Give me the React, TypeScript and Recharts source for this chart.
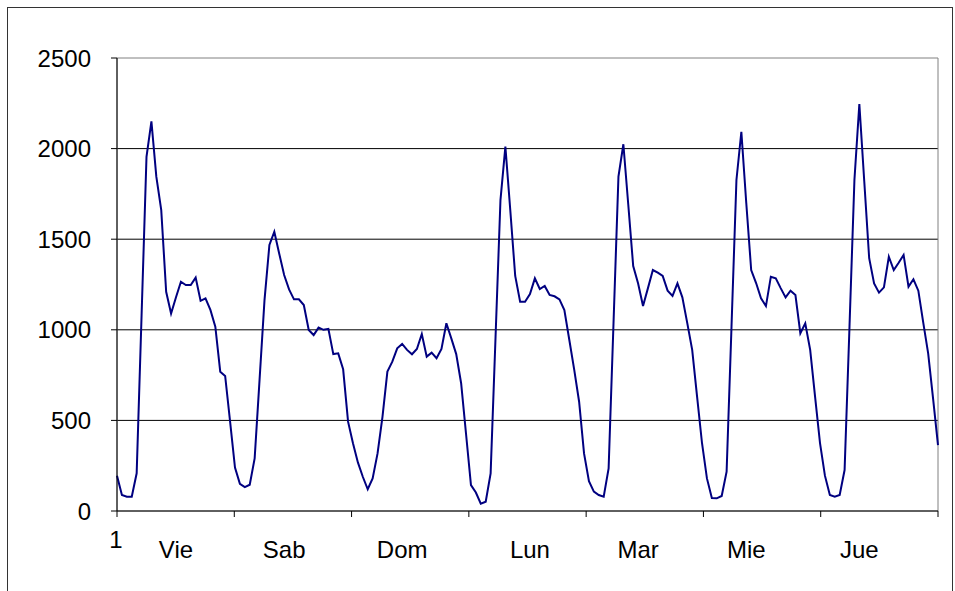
import { LineChart, Line, XAxis, YAxis, CartesianGrid, ReferenceArea } from "recharts"

// hourly values, 7 days x 24 hours
const hourly = [
  // Vie
  195, 88, 79, 79, 208, 1080, 1955, 2150, 1845, 1660, 1210, 1090,
  1180, 1265, 1247, 1247, 1288, 1160, 1174, 1110, 1017, 769, 745, 495,
  // Sab
  240, 150, 132, 145, 290, 725, 1162, 1468, 1541, 1420, 1302, 1223,
  1168, 1168, 1137, 999, 971, 1012, 1000, 1005, 866, 870, 782, 493,
  // Dom
  374, 268, 189, 120, 180, 318, 520, 769, 824, 898, 922, 889,
  865, 894, 977, 852, 874, 843, 894, 1036, 953, 866, 705, 425,
  // Lun
  143, 102, 40, 51, 208, 960, 1716, 2011, 1660, 1297, 1155, 1155,
  1197, 1284, 1225, 1242, 1192, 1185, 1168, 1109, 945, 780, 603, 318,
  // Mar
  165, 107, 88, 79, 235, 1040, 1845, 2024, 1690, 1352, 1256, 1131,
  1230, 1330, 1315, 1297, 1216, 1187, 1256, 1179, 1037, 889, 630, 374,
  // Mie
  180, 72, 70, 83, 217, 1020, 1827, 2093, 1700, 1330, 1258, 1174,
  1131, 1293, 1284, 1230, 1179, 1216, 1192, 981, 1036, 889, 630, 375,
  // Jue
  195, 88, 79, 88, 226, 1020, 1827, 2246, 1820, 1395, 1256, 1205,
  1234, 1403, 1330, 1370, 1413, 1238, 1279, 1216, 1040, 870, 620, 364,
]

const dayNames = ["Vie", "Sab", "Dom", "Lun", "Mar", "Mie", "Jue"]
// category index where each day label sits
const dayLabelAt = [12, 34, 58, 84, 106, 128, 151]
const yTicks = [0, 500, 1000, 1500, 2000, 2500]

const data = hourly.map((v, i) => ({ i, v }))
const LAST = hourly.length - 1
const bounds = Array.from({ length: 8 }, (_, k) => (k * LAST) / 7)
const xTicks = [...bounds, ...dayLabelAt].sort((a, b) => a - b)

const FONT = "'Liberation Sans', Arial, sans-serif"

const XTick = (props: any) => {
  const { x, y, payload } = props
  const v = payload.value
  const isBound = bounds.some((b) => Math.abs(b - v) < 1e-6)
  const di = dayLabelAt.indexOf(v)
  return (
    <g>
      {isBound && <line x1={x} x2={x} y1={y - 6} y2={y} stroke="#000" />}
      {v === 0 && (
        <text x={x - 1} y={y + 31} textAnchor="middle" fontSize={24} fontFamily={FONT} fill="#000">
          1
        </text>
      )}
      {di >= 0 && (
        <text x={x} y={y + 41} textAnchor="middle" fontSize={24} fontFamily={FONT} fill="#000">
          {dayNames[di]}
        </text>
      )}
    </g>
  )
}

export default function App() {
  return (
    <div
      style={{
        position: "absolute",
        left: 0,
        top: 0,
        width: 955,
        height: 591,
        overflow: "hidden",
        background: "#fff",
      }}
    >
      <div
        style={{
          position: "absolute",
          left: 7,
          top: 7,
          width: 946,
          height: 700,
          boxSizing: "border-box",
          border: "1px solid #333",
        }}
      />
      <div style={{ position: "absolute", left: 0, top: 0 }}>
        <LineChart width={955} height={591} data={data} margin={{ top: 58, right: 17, bottom: 30, left: 57 }}>
          <CartesianGrid horizontal vertical={false} stroke="#000" horizontalValues={[500, 1000, 1500, 2000]} />
          <ReferenceArea x1={0} x2={LAST} y1={0} y2={2500} fill="none" stroke="#808080" strokeWidth={1} />
          <XAxis
            dataKey="i"
            type="number"
            domain={[0, LAST]}
            ticks={xTicks}
            interval={0}
            height={50}
            tickSize={6}
            tickMargin={0}
            tickLine={false}
            axisLine={{ stroke: "#000" }}
            tick={<XTick />}
          />
          <YAxis
            type="number"
            domain={[0, 2500]}
            ticks={yTicks}
            interval={0}
            width={60}
            tickSize={6}
            tickMargin={20}
            tickLine={{ stroke: "#000" }}
            axisLine={{ stroke: "#000" }}
            tick={{ fill: "#000", fontSize: 24, fontFamily: FONT }}
          />
          <Line
            type="linear"
            dataKey="v"
            stroke="#000080"
            strokeWidth={2}
            dot={false}
            isAnimationActive={false}
          />
        </LineChart>
      </div>
    </div>
  )
}
